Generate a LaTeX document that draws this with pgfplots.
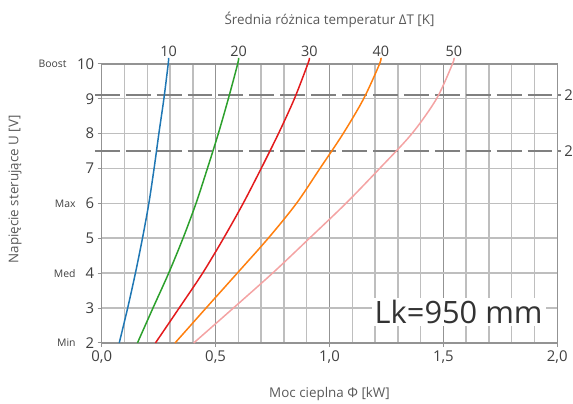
\documentclass[border=0pt]{standalone}
\usepackage{pgfplots}
\pgfplotsset{compat=1.18}
\usepackage{fontspec}
\setmainfont{Open Sans}
\definecolor{cblue}{HTML}{1F77B4}
\definecolor{cgreen}{HTML}{2CA02C}
\definecolor{cred}{HTML}{E31A1C}
\definecolor{corange}{HTML}{FF7F0E}
\definecolor{cpink}{HTML}{F4A3A3}
\definecolor{txtgray}{HTML}{595959}
\definecolor{tickgray}{HTML}{404040}
\definecolor{gridlight}{HTML}{BEBEBE}
\definecolor{griddark}{HTML}{939393}
\definecolor{dashgray}{HTML}{808080}
\begin{document}
\begin{tikzpicture}
\begin{axis}[name=ax, scale only axis, width=457bp, height=280bp,
  xmin=0, xmax=2, ymin=2, ymax=10, clip=false,
  xtick={0,0.5,1,1.5,2}, minor xtick={0.1,0.2,0.3,0.4,0.6,0.7,0.8,0.9,1.1,1.2,1.3,1.4,1.6,1.7,1.8,1.9},
  ytick={2,3,4,5,6,7,8,9,10},
  xmajorgrids, xminorgrids, ymajorgrids,
  major x grid style={griddark, line width=1.3bp},
  minor x grid style={gridlight, line width=1.4bp},
  major y grid style={gridlight, line width=1.6bp},
  axis line style={griddark, line width=1.4bp},
  tick align=outside, major tick length=4bp, minor tick length=0pt,
  tick style={griddark, line width=1bp},
  xtick pos=bottom, ytick pos=left,
  ticklabel style={font=\fontsize{15}{17}\selectfont, text=tickgray},
  /pgf/number format/assume math mode=true,
  x tick label style={/pgf/number format/.cd, use comma, fixed, fixed zerofill, precision=1},
]
% dashed reference lines
\addplot[dashgray, line width=2.2bp, dash pattern=on 25bp off 6bp] coordinates {(-0.03,9.1) (2.015,9.1)};
\addplot[dashgray, line width=2.2bp, dash pattern=on 25bp off 6bp] coordinates {(-0.03,7.5) (2.015,7.5)};
% curves
\addplot[cblue, line width=1.5bp, smooth] coordinates {(0.077,2) (0.114,3) (0.148,4) (0.179,5) (0.207,6) (0.230,7) (0.251,8) (0.273,9) (0.292,10) (0.294,10.17)};
\addplot[cgreen, line width=1.5bp, smooth] coordinates {(0.157,2) (0.225,3) (0.294,4) (0.357,5) (0.414,6) (0.464,7) (0.512,8) (0.556,9) (0.597,10) (0.601,10.17)};
\addplot[cred, line width=1.5bp, smooth] coordinates {(0.236,2) (0.340,3) (0.443,4) (0.535,5) (0.621,6) (0.700,7) (0.776,8) (0.846,9) (0.905,10) (0.912,10.17)};
\addplot[corange, line width=1.5bp, smooth] coordinates {(0.322,2) (0.458,3) (0.595,4) (0.731,5) (0.855,6) (0.958,7) (1.060,8) (1.150,9) (1.220,10) (1.225,10.17)};
\addplot[cpink, line width=1.5bp, smooth] coordinates {(0.404,2) (0.578,3) (0.750,4) (0.912,5) (1.072,6) (1.220,7) (1.362,8) (1.470,9) (1.540,10) (1.546,10.17)};
% curve labels
\node[anchor=south, inner sep=1bp, font=\fontsize{14.5}{16}\selectfont, text=tickgray] at (axis cs:0.294,10.17) {10};
\node[anchor=south, inner sep=1bp, font=\fontsize{14.5}{16}\selectfont, text=tickgray] at (axis cs:0.601,10.17) {20};
\node[anchor=south, inner sep=1bp, font=\fontsize{14.5}{16}\selectfont, text=tickgray] at (axis cs:0.912,10.17) {30};
\node[anchor=south, inner sep=1bp, font=\fontsize{14.5}{16}\selectfont, text=tickgray] at (axis cs:1.225,10.17) {40};
\node[anchor=south, inner sep=1bp, font=\fontsize{14.5}{16}\selectfont, text=tickgray] at (axis cs:1.546,10.17) {50};
% level labels
\node[anchor=east, inner sep=0pt, font=\fontsize{10.5}{12}\selectfont, text=tickgray] at ([xshift=-35bp]axis cs:0,10) {Boost};
\node[anchor=east, inner sep=0pt, font=\fontsize{10.5}{12}\selectfont, text=tickgray] at ([xshift=-26bp]axis cs:0,6) {Max};
\node[anchor=east, inner sep=0pt, font=\fontsize{10.5}{12}\selectfont, text=tickgray] at ([xshift=-26bp]axis cs:0,4) {Med};
\node[anchor=east, inner sep=0pt, font=\fontsize{10.5}{12}\selectfont, text=tickgray] at ([xshift=-26bp]axis cs:0,2) {Min};
% right cut labels
\node[anchor=west, inner sep=0pt, font=\fontsize{15}{17}\selectfont, text=tickgray] at ([xshift=7bp]axis cs:2,9.1) {2};
\node[anchor=west, inner sep=0pt, font=\fontsize{15}{17}\selectfont, text=tickgray] at ([xshift=7bp]axis cs:2,7.5) {2};
% Lk text
\node[fill=white, inner xsep=3bp, inner ysep=2bp, font=\fontsize{31}{34}\selectfont, text=black!80] at (axis cs:1.567,2.89) {Lk=950 mm};
% axis titles
\node[rotate=90, font=\fontsize{13.5}{15}\selectfont, text=txtgray] at ([xshift=-87bp]axis cs:0,6.4) {Napięcie sterujące U [V]};
\end{axis}
\node[font=\fontsize{13.5}{15}\selectfont, text=txtgray] at ([yshift=44bp]ax.north) {Średnia różnica temperatur ΔT [K]};
\node[font=\fontsize{13.5}{15}\selectfont, text=txtgray] at ([yshift=-51bp]ax.south) {Moc cieplna Φ [kW]};
\path[use as bounding box] ([xshift=-102bp,yshift=-58bp]ax.south west) rectangle ([xshift=14bp,yshift=64bp]ax.north east);
\end{tikzpicture}
\end{document}
